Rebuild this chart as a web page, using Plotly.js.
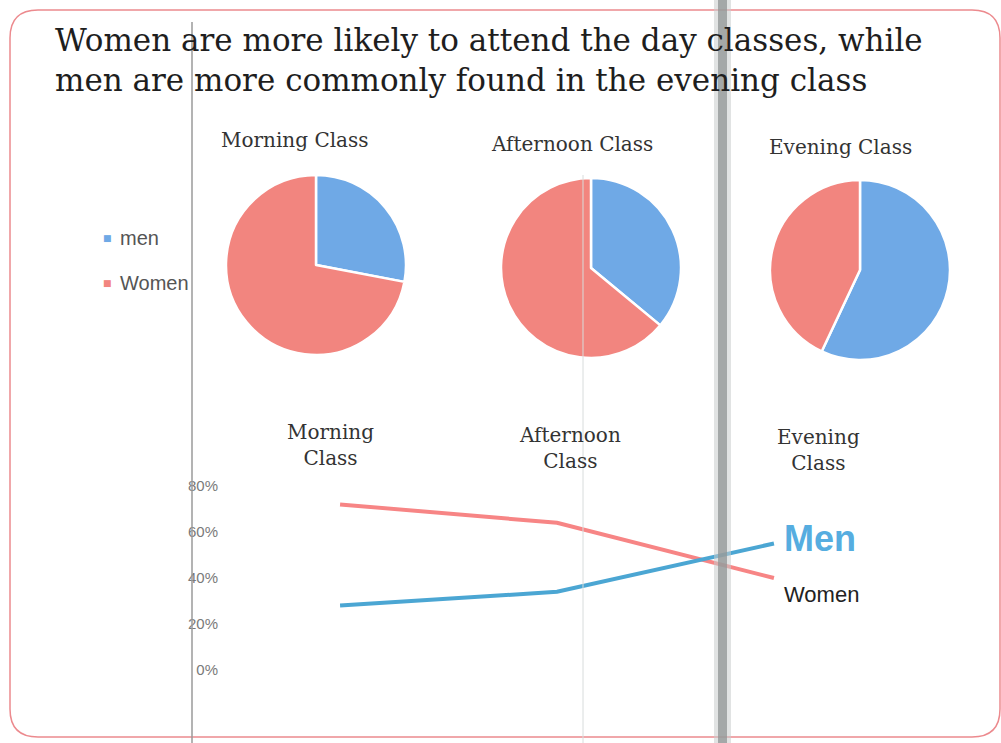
<!DOCTYPE html>
<html>
<head>
<meta charset="utf-8">
<script src="https://cdn.plot.ly/plotly-3.0.1.min.js"></script>
<style>html,body{margin:0;padding:0;background:#fff;}#chart{width:1001px;height:743px;}</style>
</head>
<body>
<div id="chart"></div>
<script>
const classes = ["Morning Class", "Afternoon Class", "Evening Class"];
const lineLabels = ["Morning<br>Class", "Afternoon<br>Class", "Evening<br>Class"];
const groups = ["men", "Women"];
const menPie = [28, 36, 57];
const womenPie = [72, 64, 43];
const menLine = [28, 34, 55];
const womenLine = [72, 64, 40];
const yTicks = [0, 20, 40, 60, 80];
const yTickText = ["0%", "20%", "40%", "60%", "80%"];

const W = 1001, H = 743;
const px = x => x / W, py = y => 1 - y / H;

const pieBlue = "#6fa9e6", pieRed = "#f2857f";
const lineBlue = "#4ba6d3", lineRed = "#f78585";

const pieBoxes = [
  {x: [226, 406], y: [175, 355]},
  {x: [501, 681], y: [178, 358]},
  {x: [770, 950], y: [180, 360]}
];

const traces = [];
classes.forEach((c, i) => {
  traces.push({
    type: "pie",
    labels: groups,
    values: [menPie[i], womenPie[i]],
    sort: false,
    direction: "clockwise",
    rotation: 0,
    textinfo: "none",
    hoverinfo: "label+percent",
    marker: {colors: [pieBlue, pieRed], line: {color: "#ffffff", width: 2.5}},
    domain: {x: [px(pieBoxes[i].x[0]), px(pieBoxes[i].x[1])], y: [py(pieBoxes[i].y[1]), py(pieBoxes[i].y[0])]},
    showlegend: false
  });
});

traces.push({
  type: "scatter", mode: "lines", name: "Women",
  x: classes, y: womenLine,
  line: {color: lineRed, width: 4},
  xaxis: "x", yaxis: "y", showlegend: false
});
traces.push({
  type: "scatter", mode: "lines", name: "Men",
  x: classes, y: menLine,
  line: {color: lineBlue, width: 4},
  xaxis: "x", yaxis: "y", showlegend: false
});

const annotations = [];
const pieTitlePos = [[295, 140], [572, 144], [840, 147]];
classes.forEach((c, i) => {
  annotations.push({
    xref: "paper", yref: "paper", x: px(pieTitlePos[i][0]), y: py(pieTitlePos[i][1]),
    text: c, showarrow: false, xanchor: "center", yanchor: "middle",
    font: {family: "DejaVu Serif", size: 20, color: "#333"}
  });
});
const lineLabelPos = [[330, 445], [570, 448], [818, 450]];
lineLabels.forEach((c, i) => {
  annotations.push({
    xref: "paper", yref: "paper", x: px(lineLabelPos[i][0]), y: py(lineLabelPos[i][1]),
    text: c, showarrow: false, xanchor: "center", yanchor: "middle",
    font: {family: "DejaVu Serif", size: 20, color: "#333"}
  });
});
// legend
[[groups[0], pieBlue, 238], [groups[1], pieRed, 283]].forEach(([t, col, y]) => {
  annotations.push({xref: "paper", yref: "paper", x: px(101), y: py(y), text: "■", showarrow: false,
    xanchor: "left", yanchor: "middle", font: {family: "DejaVu Sans", size: 9, color: col}});
  annotations.push({xref: "paper", yref: "paper", x: px(118), y: py(y), text: t, showarrow: false,
    xanchor: "left", yanchor: "middle", font: {family: "Liberation Sans", size: 20, color: "#555"}});
});
// end labels
annotations.push({xref: "x", yref: "y", x: classes[2], y: menLine[2] + 2, xshift: 8, text: "<b>Men</b>", showarrow: false,
  xanchor: "left", yanchor: "middle", font: {family: "Liberation Sans", size: 36, color: "#56ade0"}});
annotations.push({xref: "x", yref: "y", x: classes[2], y: womenLine[2] - 7, xshift: 8, text: "Women", showarrow: false,
  xanchor: "left", yanchor: "middle", font: {family: "Liberation Sans", size: 22, color: "#222"}});

// rounded border
const r = 28;
const L = 10, T = 10, R = 1000, B = 737;
const borderPath = `M ${px(L + r)} ${py(T)} L ${px(R - r)} ${py(T)} Q ${px(R)} ${py(T)} ${px(R)} ${py(T + r)} ` +
  `L ${px(R)} ${py(B - r)} Q ${px(R)} ${py(B)} ${px(R - r)} ${py(B)} L ${px(L + r)} ${py(B)} ` +
  `Q ${px(L)} ${py(B)} ${px(L)} ${py(B - r)} L ${px(L)} ${py(T + r)} Q ${px(L)} ${py(T)} ${px(L + r)} ${py(T)} Z`;

const shapes = [
  {type: "path", xref: "paper", yref: "paper", path: borderPath, line: {color: "#ec8a8e", width: 1.5}, layer: "below"},
  {type: "line", xref: "paper", yref: "paper", x0: px(192), x1: px(192), y0: 0, y1: py(22), line: {color: "#9a9a9a", width: 1.5}, layer: "above"},
  {type: "line", xref: "paper", yref: "paper", x0: px(583), x1: px(583), y0: 0, y1: py(175), line: {color: "#d8dcdc", width: 1}, layer: "above"},
  {type: "rect", xref: "paper", yref: "paper", x0: px(714), x1: px(731), y0: 0, y1: 1, fillcolor: "#c9cccc", line: {width: 0}, layer: "above", opacity: 0.55},
  {type: "rect", xref: "paper", yref: "paper", x0: px(718), x1: px(727), y0: 0, y1: 1, fillcolor: "#8f9494", line: {width: 0}, layer: "above", opacity: 0.75}
];

const layout = {
  width: W, height: H,
  margin: {l: 0, r: 0, t: 0, b: 0},
  paper_bgcolor: "#ffffff", plot_bgcolor: "rgba(0,0,0,0)",
  title: {
    text: "Women are more likely to attend the day classes, while<br>men are more commonly found in the evening class",
    x: px(55), xanchor: "left", xref: "paper", y: py(51), yanchor: "middle", yref: "paper",
    font: {family: "DejaVu Serif", size: 31, color: "#1e1e1e"}
  },
  showlegend: false,
  xaxis: {
    domain: [px(219), px(900)], range: [-0.558, 2.581],
    showticklabels: false, showgrid: false, zeroline: false, showline: false, ticks: ""
  },
  yaxis: {
    domain: [py(670), py(486)], range: [0, 80],
    tickmode: "array", tickvals: yTicks, ticktext: yTickText,
    showgrid: false, zeroline: false, showline: false, ticks: "",
    tickfont: {family: "Liberation Sans", size: 15, color: "#7a7a7a"}
  },
  annotations: annotations,
  shapes: shapes
};

Plotly.newPlot("chart", traces, layout, {displayModeBar: false, staticPlot: true});
</script>
</body>
</html>
